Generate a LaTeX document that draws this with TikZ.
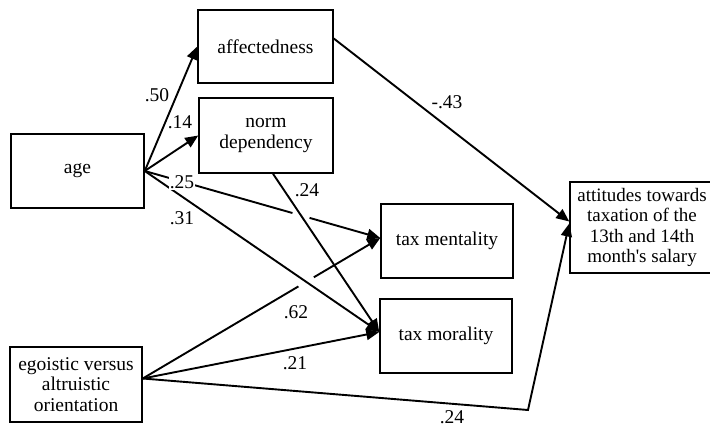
\documentclass[tikz,border=0pt]{standalone}
\usepackage{fontspec}
\setmainfont{Liberation Serif}
\usetikzlibrary{arrows.meta,intersections}
\begin{document}
\begin{tikzpicture}[x=1pt,y=-1pt,
  box/.style={draw,line width=1.5pt,align=center,inner sep=0pt,
    font=\fontsize{19.5}{20.5}\selectfont},
  arr/.style={line width=1.9pt,-{Triangle[length=13pt,width=11pt]}},
  lab/.style={font=\fontsize{19.5}{20.5}\selectfont,inner sep=1pt}]
\useasboundingbox (0,0) rectangle (710,433);
\node[box,minimum width=133pt,minimum height=74pt] (age) at (77.5,171) {age};
\node[box,minimum width=135pt,minimum height=73pt] (aff) at (265.5,46.5) {affectedness};
\node[box,minimum width=134pt,minimum height=75pt] (norm) at (266,135.5) {norm\\dependency};
\node[box,minimum width=132pt,minimum height=74pt] (tmen) at (447,241) {tax mentality};
\node[box,minimum width=132pt,minimum height=74pt] (tmor) at (446,336) {tax morality};
\node[box,minimum width=132pt,minimum height=75pt] (ego) at (76,384.5) {egoistic versus\\altruistic\\orientation};
\node[box,minimum width=144pt,minimum height=91pt,font=\fontsize{19}{20.5}\selectfont] (att) at (642,227.5) {attitudes towards\\taxation of the\\13th and 14th\\month\textquotesingle s salary};
\coordinate (bend) at (528,410);
% arrows
\draw[arr] (age.east) -- (aff.west);
\draw[arr] (age.east) -- (norm.west);
\draw[arr,name path=p25] (age.east) -- ([yshift=3pt]tmen.west);
\draw[arr,name path=p62] ([yshift=6pt]ego.east) -- ([yshift=3pt]tmen.west);
\path[name path=pnorm] ([xshift=7pt]norm.south) -- ([yshift=4pt]tmor.west);
\path[name path=p31] (age.east) -- ([yshift=4pt]tmor.west);
\fill[white,name intersections={of=p25 and pnorm}] (intersection-1) circle (9pt);
\draw[arr] ([xshift=7pt]norm.south) -- ([yshift=4pt]tmor.west);
\fill[white,name intersections={of=p62 and p31}] (intersection-1) circle (9pt);
\draw[arr] (age.east) -- ([yshift=4pt]tmor.west);
\draw[arr] ([yshift=6pt]ego.east) -- ([yshift=4pt]tmor.west);
\draw[arr] ([yshift=8pt]aff.east) -- ([yshift=6pt]att.west);
\draw[arr] ([yshift=6pt]ego.east) -- (bend) -- ([yshift=4pt]att.west);
% labels
\node[lab] (l50) at (157,95) {.50};
\node[lab] (l14) at (180,122) {.14};
\node[lab,fill=white] (l25) at (182,182) {.25};
\node[lab] (l24a) at (307,190) {.24};
\node[lab] (l31) at (182,218) {.31};
\node[lab] (l43) at (447,102) {-.43};
\node[lab] (l62) at (296,312) {.62};
\node[lab] (l21) at (295,363) {.21};
\node[lab] (l24b) at (452,417) {.24};
\end{tikzpicture}
\end{document}
